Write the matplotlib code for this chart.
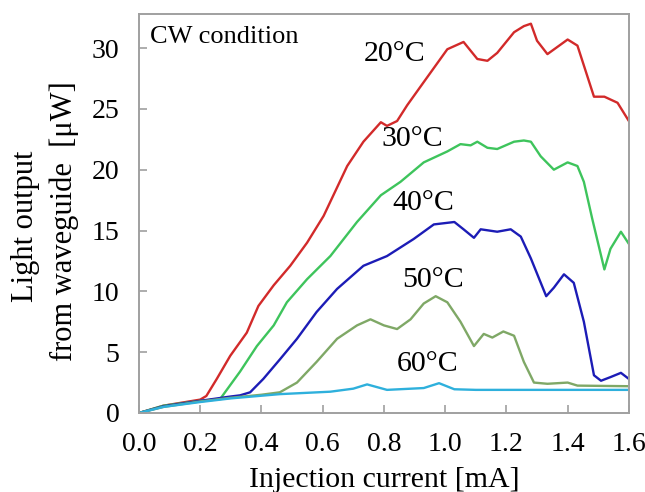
import matplotlib
matplotlib.use("Agg")
import matplotlib.pyplot as plt

plt.rcParams['font.family'] = ['Liberation Serif', 'DejaVu Serif']

# 20°C
x20 = [0, 0.08, 0.2, 0.22, 0.254, 0.298, 0.352, 0.39, 0.44, 0.494, 0.549, 0.603, 0.68, 0.733,
       0.79, 0.81, 0.843, 0.876, 0.93, 1.007, 1.06, 1.105, 1.138, 1.17, 1.225, 1.257, 1.28,
       1.30, 1.334, 1.40, 1.432, 1.486, 1.52, 1.563, 1.6]
y20 = [0, 0.6, 1.1, 1.4, 2.8, 4.7, 6.6, 8.8, 10.5, 12.1, 14.0, 16.2, 20.3, 22.3,
       23.9, 23.6, 24.0, 25.3, 27.2, 29.9, 30.5, 29.1, 28.95, 29.6, 31.3, 31.8, 32.0,
       30.6, 29.5, 30.7, 30.2, 26.0, 26.0, 25.5, 24.0]

# 30°C
x30 = [0, 0.08, 0.2, 0.265, 0.33, 0.385, 0.44, 0.483, 0.549, 0.625, 0.712, 0.79, 0.854,
       0.93, 1.007, 1.05, 1.083, 1.105, 1.138, 1.17, 1.225, 1.257, 1.28, 1.312, 1.355,
       1.40, 1.432, 1.453, 1.48, 1.52, 1.54, 1.574, 1.6]
y30 = [0, 0.6, 1.0, 1.15, 3.4, 5.5, 7.2, 9.1, 11.0, 12.9, 15.7, 17.9, 19.0,
       20.6, 21.5, 22.1, 22.0, 22.3, 21.8, 21.7, 22.3, 22.4, 22.3, 21.1, 20.0,
       20.6, 20.3, 19.0, 16.0, 11.8, 13.5, 14.9, 13.9]

# 40°C
x40 = [0, 0.08, 0.2, 0.298, 0.33, 0.363, 0.406, 0.46, 0.516, 0.58, 0.647, 0.733, 0.81,
       0.897, 0.963, 1.03, 1.06, 1.094, 1.116, 1.17, 1.214, 1.247, 1.28, 1.33, 1.355,
       1.388, 1.42, 1.453, 1.486, 1.509, 1.54, 1.574, 1.6]
y40 = [0, 0.55, 1.0, 1.35, 1.45, 1.7, 2.8, 4.4, 6.1, 8.3, 10.2, 12.1, 12.9,
       14.3, 15.5, 15.7, 15.1, 14.4, 15.1, 14.9, 15.1, 14.5, 12.7, 9.6, 10.3,
       11.4, 10.7, 7.5, 3.1, 2.65, 2.95, 3.3, 2.8]

# 50°C
x50 = [0, 0.08, 0.2, 0.3, 0.4, 0.46, 0.516, 0.58, 0.647, 0.712, 0.756, 0.80, 0.843, 0.887,
       0.93, 0.969, 1.007, 1.05, 1.094, 1.126, 1.154, 1.19, 1.225, 1.257, 1.29, 1.334,
       1.40, 1.432, 1.6]
y50 = [0, 0.5, 0.95, 1.25, 1.5, 1.7, 2.5, 4.2, 6.1, 7.2, 7.7, 7.2, 6.9, 7.7,
       9.0, 9.6, 9.1, 7.5, 5.5, 6.5, 6.2, 6.7, 6.35, 4.2, 2.5, 2.4,
       2.5, 2.25, 2.2]

# 60°C
x60 = [0, 0.08, 0.2, 0.3, 0.46, 0.625, 0.70, 0.745, 0.81, 0.93, 0.98, 1.03, 1.1, 1.6]
y60 = [0, 0.5, 0.9, 1.2, 1.55, 1.75, 2.0, 2.35, 1.9, 2.05, 2.45, 1.95, 1.9, 1.9]

series = [
    (x20, y20, "#d22a2a", "20°C", (0.834, 29.5)),
    (x30, y30, "#3ec45c", "30°C", (0.893, 22.5)),
    (x40, y40, "#1c1cb6", "40°C", (0.928, 17.3)),
    (x50, y50, "#7fa866", "50°C", (0.960, 10.9)),
    (x60, y60, "#2eb0dc", "60°C", (0.944, 4.0)),
]

fig = plt.figure(figsize=(6.45, 4.92), dpi=100)
ax = fig.add_axes([0.2155, 0.1606, 0.7595, 0.811])

for xs, ys, c, lab, pos in series:
    ax.plot(xs, ys, color=c, lw=1.7)
    ax.text(pos[0], pos[1], lab, fontsize=21.5, ha="center", va="center")

ax.text(0.036, 30.9, "CW condition", fontsize=19, ha="left", va="center")

ax.set_xlim(0, 1.6)
ax.set_ylim(0, 32.8)
ax.set_xticks([0.0, 0.2, 0.4, 0.6, 0.8, 1.0, 1.2, 1.4, 1.6])
ax.set_xticklabels(["0.0", "0.2", "0.4", "0.6", "0.8", "1.0", "1.2", "1.4", "1.6"])
ax.set_yticks([0, 5, 10, 15, 20, 25, 30])

for sp in ax.spines.values():
    sp.set_color("#a0a0a0")
    sp.set_linewidth(1.4)
ax.tick_params(direction="in", length=6, width=1.2, color="#a0a0a0",
               labelsize=20, pad=14)

ax.set_xlabel("Injection current [mA]", fontsize=21.5, labelpad=7)

# two-line y label, both lines centred
fig.text(26 / 645, 1 - 226 / 492, "Light output", rotation=90, fontsize=22,
         ha="center", va="center")
fig.text(64 / 645, 1 - 221 / 492, "from waveguide  [μW]", rotation=90, fontsize=22,
         ha="center", va="center")

fig.savefig("out.png", dpi=100)
